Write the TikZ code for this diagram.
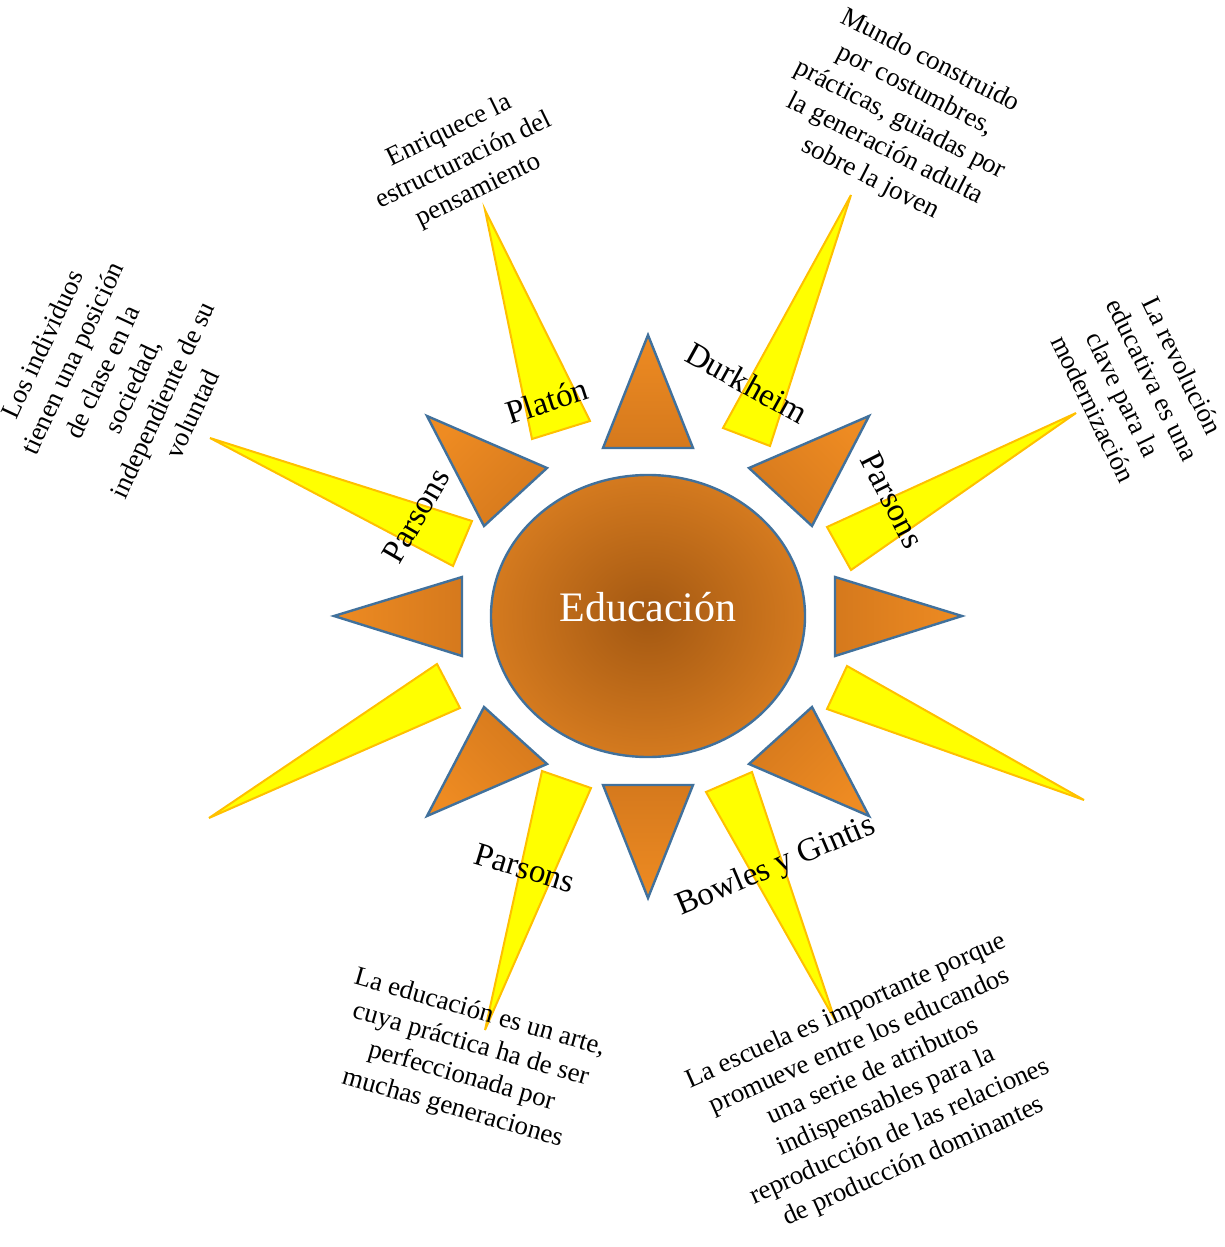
\documentclass[tikz,border=0pt]{standalone}
\usepackage{fontspec}
\setmainfont{Liberation Serif}
\definecolor{rayfill}{RGB}{255,255,0}
\definecolor{rayline}{RGB}{255,192,0}
\definecolor{triline}{RGB}{65,113,156}
\definecolor{trilight}{RGB}{238,139,34}
\definecolor{tridark}{RGB}{213,121,29}
\definecolor{suncore}{RGB}{163,88,18}
\definecolor{sunedge}{RGB}{212,122,31}
\tikzset{
  ray/.style={draw=rayline,fill=rayfill,line width=2pt},
  tri/.style={draw=triline,line width=2.4pt,top color=trilight,bottom color=tridark},
  sun/.style={draw=triline,line width=2.4pt,inner color=suncore,outer color=sunedge},
  quote/.style={align=center,font=\fontsize{26.8}{33}\selectfont},
  author/.style={font=\fontsize{33}{40}\selectfont}
}
\begin{document}
\begin{tikzpicture}[x=1pt,y=1pt]
            \tikzstyle{every node}+=[inner sep=0pt]
            \useasboundingbox (0,0) rectangle (1225,-1247);
            \draw [ray] (485,-210) -- (532,-439) -- (590,-421) -- cycle;
            \draw [ray] (851,-195) -- (723,-428) -- (770,-446) -- cycle;
            \draw [ray] (1076,-413) -- (827,-527) -- (851,-570) -- cycle;
            \draw [ray] (1084,-800) -- (847,-666) -- (827,-709) -- cycle;
            \draw [ray] (835,-1020) -- (706,-792) -- (752,-772) -- cycle;
            \draw [ray] (485,-1030) -- (542,-771) -- (591,-788) -- cycle;
            \draw [ray] (209,-818) -- (437,-664) -- (460,-708) -- cycle;
            \draw [ray] (210,-438) -- (472,-521) -- (453,-566) -- cycle;
            \draw [tri] (603,-448) -- (693,-448) -- (648,-335) -- cycle;
            \draw [tri,shading angle=-90] (835,-577) -- (835,-656) -- (962,-616) -- cycle;
            \draw [tri,shading angle=180] (603,-785) -- (693,-785) -- (648,-898) -- cycle;
            \draw [tri,shading angle=90] (462,-577) -- (462,-656) -- (334,-616) -- cycle;
            \draw [tri,shading angle=45] (427,-416) -- (547,-468) -- (484,-526) -- cycle;
            \draw [tri,shading angle=-45] (869,-416) -- (749,-468) -- (812,-526) -- cycle;
            \draw [tri,shading angle=135] (427,-816) -- (547,-764) -- (484,-707) -- cycle;
            \draw [tri,shading angle=-135] (869,-816) -- (749,-764) -- (812,-707) -- cycle;
            \draw [sun] (648,-616) ellipse [x radius=157, y radius=141];
            \node [white,font=\fontsize{42}{50}\selectfont] (edu) at (648,-607) {Educación};
            \node [author,rotate=18] (platon) at (547,-401) {Platón};
            \node [author,rotate=-29] (durkheim) at (747,-383) {Durkheim};
            \node [author,rotate=-63] (parsonsR) at (892,-500) {Parsons};
            \node [author,rotate=60] (parsonsL) at (416,-516) {Parsons};
            \node [author,rotate=-17] (parsonsB) at (525,-868) {Parsons};
            \node [author,rotate=23] (bowles) at (776,-867) {Bowles y Gintis};
            \node [quote,rotate=26] (qPlaton) at (464,-161) {Enriquece la\\estructuración del\\pensamiento};
            \node [quote,rotate=-27] (qDurkheim) at (900,-120) {Mundo construido\\por costumbres,\\prácticas, guiadas por\\la generación adulta\\sobre la joven};
            \node [quote,rotate=-64] (qParsonsR) at (1138,-387) {La revolución\\educativa es una\\clave para la\\modernización};
            \node [quote,rotate=65] (qParsonsL) at (117,-379) {Los individuos\\tienen una posición\\de clase en la\\sociedad,\\independiente de su\\voluntad};
            \node [quote,rotate=-16] (qParsonsB) at (466,-1061) {La educación es un arte,\\cuya práctica ha de ser\\perfeccionada por\\muchas generaciones};
            \node [quote,rotate=24] (qBowles) at (880,-1087) {La escuela es importante porque\\promueve entre los educandos\\una serie de atributos\\indispensables para la\\reproducción de las relaciones\\de producción dominantes};
        \end{tikzpicture}
\end{document}
